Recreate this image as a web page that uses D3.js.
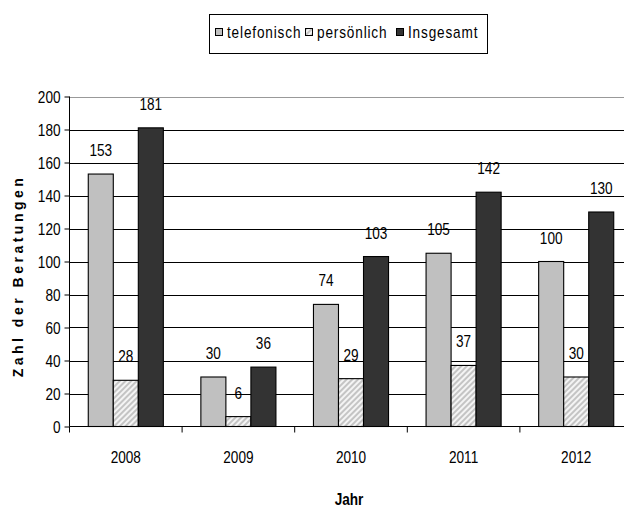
<!DOCTYPE html>
<html><head><meta charset="utf-8">
<script src="https://cdn.jsdelivr.net/npm/d3@7"></script>
<style>
html,body{margin:0;padding:0;background:#fff;}
svg{display:block;}
text{font-family:"Liberation Sans",Arial,sans-serif;}
</style></head>
<body>
<svg id="chart" width="624" height="509"></svg>
<script>
const years = ["2008","2009","2010","2011","2012"];
const seriesNames = ["telefonisch","persönlich","Insgesamt"];
const telefonisch = [153,30,74,105,100];
const persoenlich = [28,6,29,37,30];
const insgesamt = [181,36,103,142,130];
const yTicks = [0,20,40,60,80,100,120,140,160,180,200];

const seriesValues = [telefonisch, persoenlich, insgesamt];
const fills = ["#c0c0c0","url(#hatch)","#333333"];
const SX = 0.85;   // horizontal squeeze to mimic the condensed reference font
const FS = "16px";

const svg = d3.select("#chart");
const defs = svg.append("defs");
const pat = defs.append("pattern").attr("id","hatch").attr("patternUnits","userSpaceOnUse")
  .attr("width",4).attr("height",4).attr("patternTransform","rotate(45)");
pat.append("rect").attr("width",4).attr("height",4).attr("fill","#f4f4f4");
pat.append("rect").attr("width",2).attr("height",4).attr("fill","#c4c4c4");

function label(parent, px, py, txt, anchor){
  return parent.append("text").attr("transform",`translate(${px},${py}) scale(${SX},1)`)
    .attr("text-anchor",anchor||"middle").attr("font-size",FS).attr("fill","#000").text(txt);
}

const pLeft = 69.5, pRight = 632.5, pTop = 96.5, pBottom = 426.5;
const x = d3.scaleBand().domain(years).range([pLeft, pRight]).paddingInner(0).paddingOuter(0);
const y = d3.scaleLinear().domain([0,200]).range([pBottom, pTop]);
const inner = d3.scaleBand().domain(seriesNames).range([0, x.bandwidth()]).paddingInner(0).paddingOuter(0.75);

// gridlines
svg.append("g").selectAll("line").data(yTicks.filter(d=>d>0)).join("line")
  .attr("x1",pLeft).attr("x2",pRight).attr("y1",d=>Math.round(y(d))+0.5).attr("y2",d=>Math.round(y(d))+0.5)
  .attr("stroke",d=>d===200?"#999":"#000").attr("stroke-width",1);

// bars
const groups = svg.append("g").selectAll("g").data(years).join("g")
  .attr("transform",d=>`translate(${x(d)},0)`);
groups.each(function(yr, i){
  const g = d3.select(this);
  seriesNames.forEach((s, j)=>{
    const v = seriesValues[j][i];
    g.append("rect").attr("x",inner(s)).attr("width",inner.bandwidth())
      .attr("y",y(v)).attr("height",y(0)-y(v))
      .attr("fill",fills[j]).attr("stroke","#000").attr("stroke-width",1.1);
    label(g, inner(s)+inner.bandwidth()/2, y(v)-18, v);
  });
});

// y axis
const yAxis = d3.axisLeft(y).tickValues(yTicks).tickSize(5).tickPadding(5);
const ya = svg.append("g").attr("transform",`translate(${pLeft},0)`).call(yAxis);
ya.select(".domain").attr("stroke","#000").attr("d",`M0,${pTop}V${pBottom}`);
ya.selectAll(".tick line").attr("stroke","#000");
ya.selectAll(".tick text").remove();
ya.selectAll(".tick").each(function(d){
  label(d3.select(this), -9, 5.5, d, "end");
});

// x axis
const xa = svg.append("g").attr("transform",`translate(0,${pBottom})`);
xa.append("line").attr("x1",pLeft).attr("x2",624).attr("y1",0).attr("y2",0).attr("stroke","#000");
xa.selectAll(".xt").data(years.concat(["end"])).join("line").attr("class","xt")
  .attr("x1",(d,i)=>pLeft + i*x.bandwidth()).attr("x2",(d,i)=>pLeft + i*x.bandwidth())
  .attr("y1",0).attr("y2",6).attr("stroke","#000");
years.forEach(d=>label(xa, x(d)+x.bandwidth()/2, 36, d));

// axis titles
label(svg, 349, 505, "Jahr").attr("font-weight","bold");
svg.append("text").attr("transform","translate(23,276) rotate(-90)").attr("text-anchor","middle")
  .attr("font-size","14px").attr("font-weight","bold").attr("letter-spacing","3.5px").text("Zahl der Beratungen");

// legend
const lg = svg.append("g");
lg.append("rect").attr("x",209.5).attr("y",14.5).attr("width",278).attr("height",39)
  .attr("fill","#fff").attr("stroke","#000");
const legX = [215, 305, 396];
seriesNames.forEach((s,j)=>{
  lg.append("rect").attr("x",legX[j]+0.5).attr("y",28.5).attr("width",7).attr("height",7)
    .attr("fill",fills[j]).attr("stroke","#000");
  label(lg, legX[j]+12, 38, s, "start").attr("letter-spacing","1px");
});
</script>
</body></html>
